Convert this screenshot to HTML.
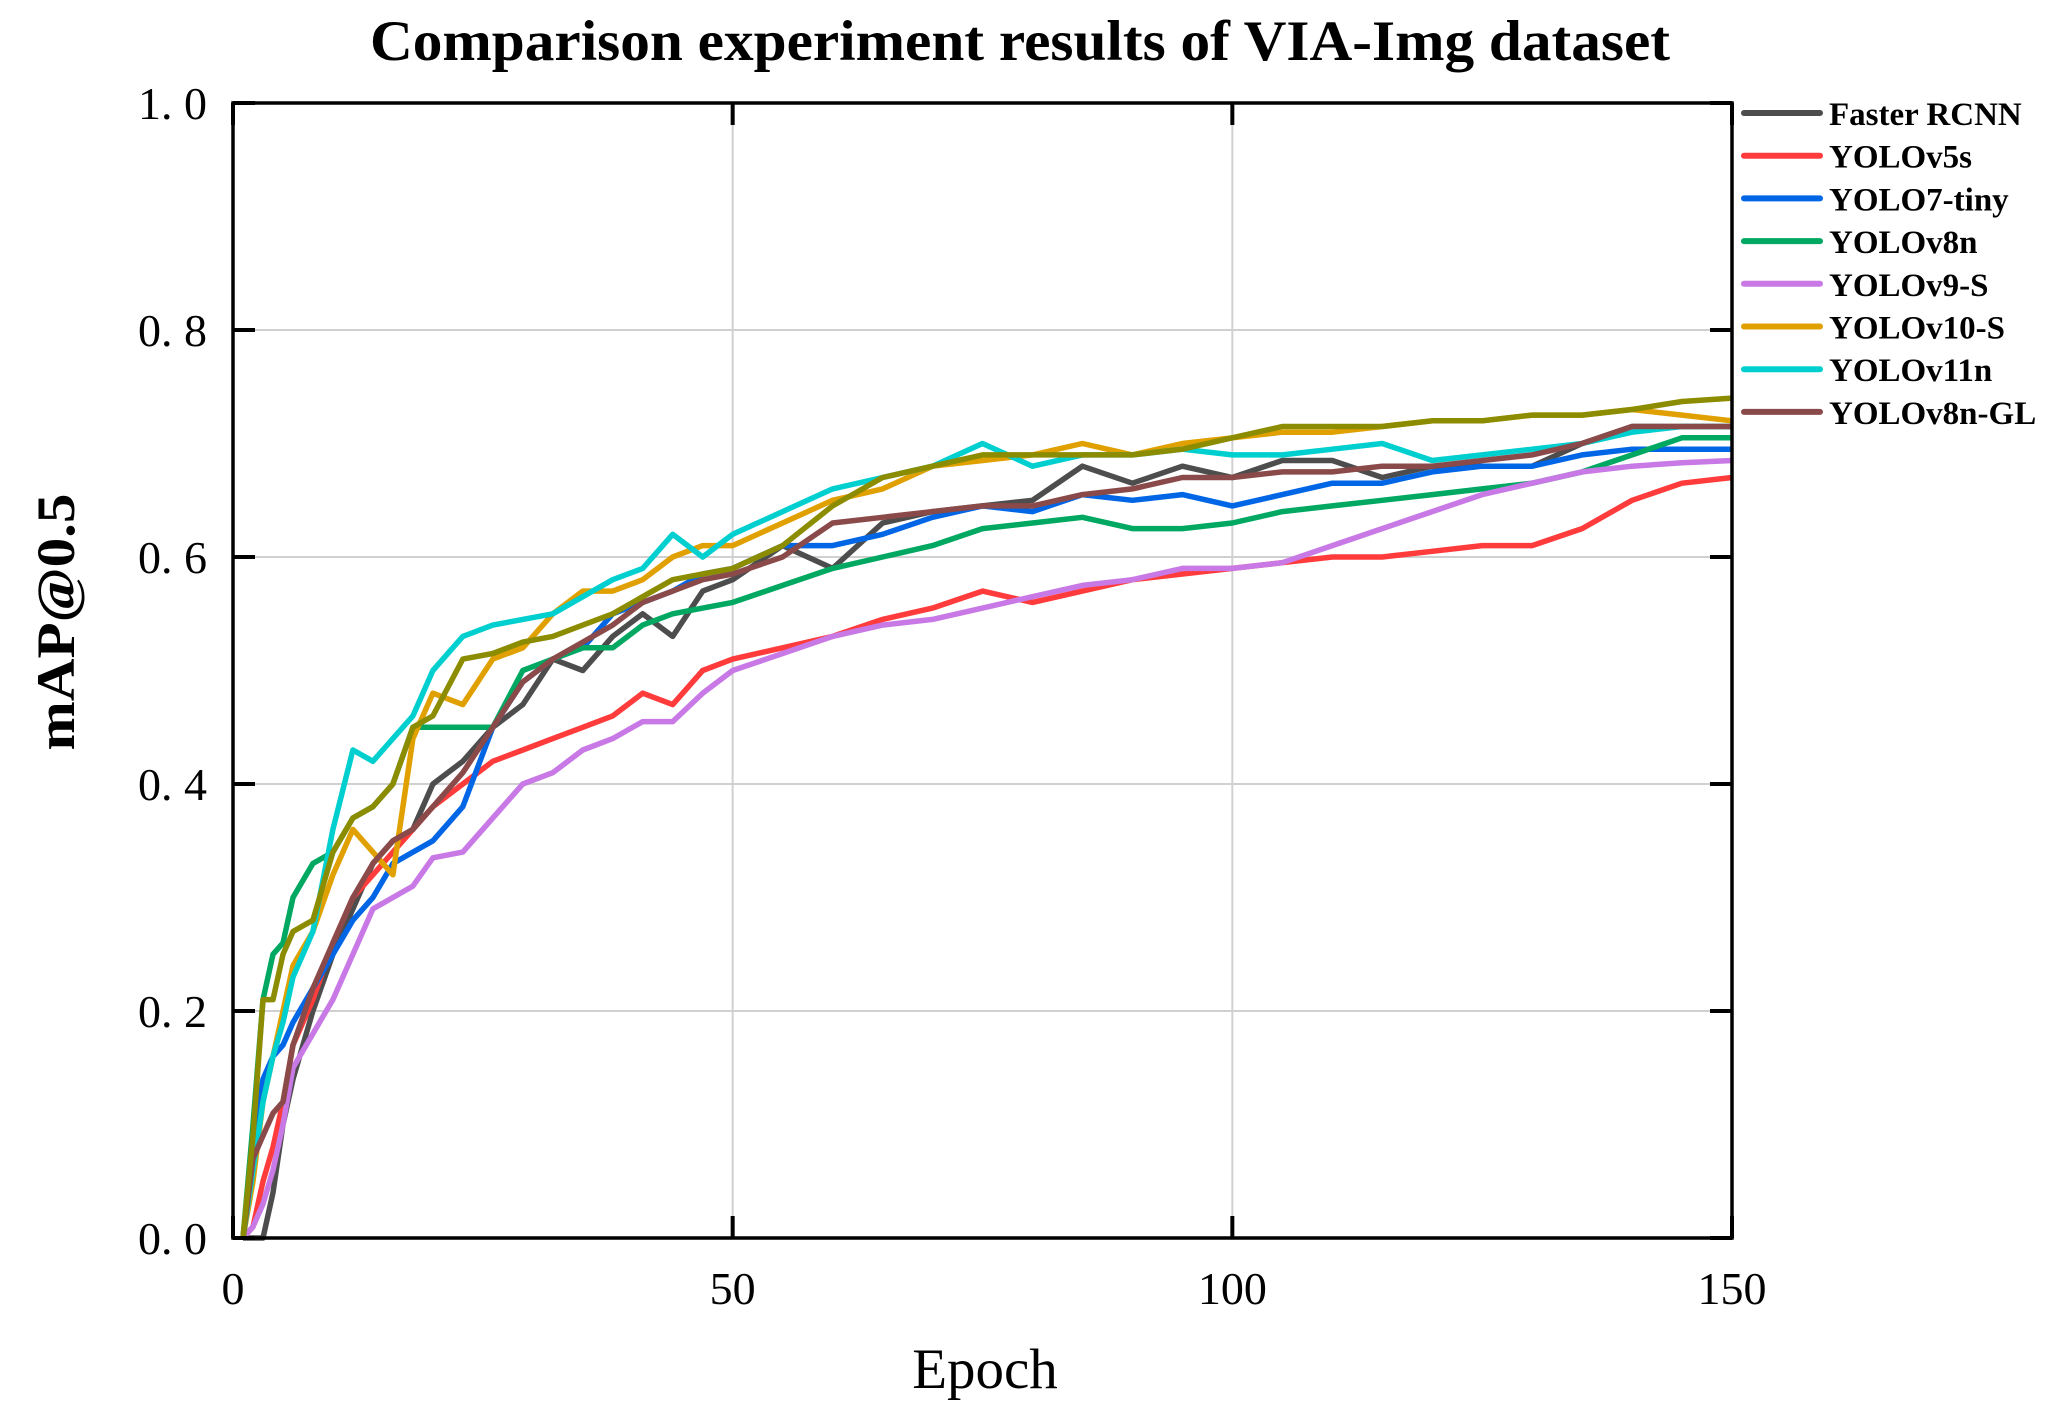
<!DOCTYPE html>
<html><head><meta charset="utf-8"><style>
html,body{margin:0;padding:0;background:#fff;}
svg{display:block;}
</style></head><body>
<svg id="chart" width="2055" height="1415" viewBox="0 0 2055 1415" xmlns="http://www.w3.org/2000/svg">
<rect x="0" y="0" width="2055" height="1415" fill="#fff"/>
<text x="1020" y="60" text-anchor="middle" font-family="Liberation Serif, serif" font-weight="bold" font-size="57" textLength="1300" lengthAdjust="spacingAndGlyphs">Comparison experiment results of VIA-Img dataset</text>
<g id="grid"></g>
<g id="series"></g>
<rect x="233" y="103" width="1499" height="1135" fill="none" stroke="#000" stroke-width="3.5"/>
<g id="ticks"></g>
<text x="985" y="1388" text-anchor="middle" font-family="Liberation Serif, serif" font-size="57">Epoch</text>
<text transform="translate(74,622) rotate(-90)" text-anchor="middle" font-family="Liberation Serif, serif" font-weight="bold" font-size="54" textLength="257" lengthAdjust="spacingAndGlyphs">mAP@0.5</text>
<g id="legend"></g>
</svg>
<script>
const epochs = [1,2,3,4,5,6,8,10,12,14,16,18,20,23,26,29,32,35,38,41,44,47,50,55,60,65,70,75,80,85,90,95,100,105,110,115,120,125,130,135,140,145,150];
const fasterRCNN = [0,0,0,0.04,0.1,0.14,0.2,0.25,0.29,0.33,0.35,0.36,0.40,0.42,0.45,0.47,0.51,0.50,0.53,0.55,0.53,0.57,0.58,0.61,0.59,0.63,0.64,0.645,0.65,0.68,0.665,0.68,0.67,0.685,0.685,0.67,0.68,0.68,0.68,0.70,0.715,0.715,0.715];
const yolov5s = [0,0.01,0.05,0.08,0.12,0.17,0.21,0.26,0.30,0.32,0.34,0.36,0.38,0.40,0.42,0.43,0.44,0.45,0.46,0.48,0.47,0.50,0.51,0.52,0.53,0.545,0.555,0.57,0.56,0.57,0.58,0.585,0.59,0.595,0.60,0.60,0.605,0.61,0.61,0.625,0.65,0.665,0.67];
const yolo7tiny = [0,0.08,0.14,0.16,0.17,0.19,0.22,0.25,0.28,0.30,0.33,0.34,0.35,0.38,0.45,0.49,0.51,0.52,0.55,0.56,0.57,0.585,0.59,0.61,0.61,0.62,0.635,0.645,0.64,0.655,0.65,0.655,0.645,0.655,0.665,0.665,0.675,0.68,0.68,0.69,0.695,0.695,0.695];
const yolov8n = [0,0.1,0.21,0.25,0.26,0.30,0.33,0.34,0.37,0.38,0.40,0.45,0.45,0.45,0.45,0.50,0.51,0.52,0.52,0.54,0.55,0.555,0.56,0.575,0.59,0.60,0.61,0.625,0.63,0.635,0.625,0.625,0.63,0.64,0.645,0.65,0.655,0.66,0.665,0.675,0.69,0.705,0.705];
const yolov9s = [0,0.01,0.03,0.06,0.1,0.15,0.18,0.21,0.25,0.29,0.30,0.31,0.335,0.34,0.37,0.40,0.41,0.43,0.44,0.455,0.455,0.48,0.50,0.515,0.53,0.54,0.545,0.555,0.565,0.575,0.58,0.59,0.59,0.595,0.61,0.625,0.64,0.655,0.665,0.675,0.68,0.683,0.685];
const yolov10s = [0,0.05,0.12,0.16,0.2,0.24,0.27,0.32,0.36,0.34,0.32,0.44,0.48,0.47,0.51,0.52,0.55,0.57,0.57,0.58,0.60,0.61,0.61,0.63,0.65,0.66,0.68,0.685,0.69,0.70,0.69,0.70,0.705,0.71,0.71,0.715,0.72,0.72,0.725,0.725,0.73,0.725,0.72];
const yolov11n = [0,0.06,0.12,0.16,0.19,0.23,0.27,0.36,0.43,0.42,0.44,0.46,0.50,0.53,0.54,0.545,0.55,0.565,0.58,0.59,0.62,0.60,0.62,0.64,0.66,0.67,0.68,0.70,0.68,0.69,0.69,0.695,0.69,0.69,0.695,0.70,0.685,0.69,0.695,0.70,0.71,0.715,0.715];
const yolov8nGL = [0,0.07,0.09,0.11,0.12,0.17,0.22,0.26,0.30,0.33,0.35,0.36,0.38,0.41,0.45,0.49,0.51,0.525,0.54,0.56,0.57,0.58,0.585,0.60,0.63,0.635,0.64,0.645,0.645,0.655,0.66,0.67,0.67,0.675,0.675,0.68,0.68,0.685,0.69,0.70,0.715,0.715,0.715];
const unlabeled = [0,0.09,0.21,0.21,0.25,0.27,0.28,0.34,0.37,0.38,0.40,0.45,0.46,0.51,0.515,0.525,0.53,0.54,0.55,0.565,0.58,0.585,0.59,0.61,0.645,0.67,0.68,0.69,0.69,0.69,0.69,0.695,0.705,0.715,0.715,0.715,0.72,0.72,0.725,0.725,0.73,0.737,0.74];
const seriesNames = ["Faster RCNN","YOLOv5s","YOLO7-tiny","YOLOv8n","YOLOv9-S","YOLOv10-S","YOLOv11n","YOLOv8n-GL"];
const yTicks = [0,0.2,0.4,0.6,0.8,1.0];
const yTickLabels = ["0. 0","0. 2","0. 4","0. 6","0. 8","1. 0"];
const xTicks = [0,50,100,150];
const xTickLabels = ["0","50","100","150"];

const NS="http://www.w3.org/2000/svg";
const L=233,R=1732,T=103,B=1238;
const xs=e=>L+(e/150)*(R-L);
const ys=v=>B-(v/1.0)*(B-T);
function mk(tag,attrs,parent){const el=document.createElementNS(NS,tag);for(const k in attrs)el.setAttribute(k,attrs[k]);parent.appendChild(el);return el;}
const grid=document.getElementById('grid'),ticks=document.getElementById('ticks'),sg=document.getElementById('series'),lg=document.getElementById('legend');
yTicks.forEach((v,i)=>{
  const y=ys(v);
  if(v>0&&v<1){const g=mk('line',{x1:L,x2:R,y1:y,y2:y,stroke:'#d0d0d0','stroke-width':2},grid);
  
  }
  const t1=mk('line',{x1:L,x2:L+22,y1:y,y2:y,stroke:'#000','stroke-width':4},ticks);
  
  
  const t2=mk('line',{x1:R-22,x2:R,y1:y,y2:y,stroke:'#000','stroke-width':4},ticks);
  
  
  const tx=mk('text',{x:207,y:y+16,'text-anchor':'end','font-family':'Liberation Serif, serif','font-size':46},ticks);
  tx.textContent=yTickLabels[i];
  
  
});
xTicks.forEach((e,i)=>{
  const x=xs(e);
  if(e>0&&e<150){const g=mk('line',{x1:x,x2:x,y1:T,y2:B,stroke:'#d0d0d0','stroke-width':2},grid);
  
  }
  const t1=mk('line',{x1:x,x2:x,y1:B,y2:B-22,stroke:'#000','stroke-width':4},ticks);
  
  
  const t2=mk('line',{x1:x,x2:x,y1:T,y2:T+22,stroke:'#000','stroke-width':4},ticks);
  
  
  const tx=mk('text',{x:x,y:1304,'text-anchor':'middle','font-family':'Liberation Serif, serif','font-size':46},ticks);
  tx.textContent=xTickLabels[i];
  
  
});
const all=[fasterRCNN,yolov5s,yolo7tiny,yolov8n,yolov9s,yolov10s,yolov11n,yolov8nGL,unlabeled];
const colors=['#4d4d4d','#ff3b3b','#0066e6','#00a862','#c879e6','#e0a000','#00cfcf','#8b4a4a','#8c8c00'];
const ids=['faster-rcnn','yolov5s','yolo7-tiny','yolov8n','yolov9-s','yolov10-s','yolov11n','yolov8n-gl','unlabeled-olive'];
all.forEach((vals,k)=>{
  const d=vals.map((v,i)=>(i?'L':'M')+xs(epochs[i]).toFixed(1)+' '+ys(v).toFixed(1)).join(' ');
  const p=mk('path',{d:d,fill:'none',stroke:colors[k],'stroke-width':5.5,'stroke-linejoin':'round'},sg);
  
  
});
seriesNames.forEach((n,i)=>{
  const y=113+i*42.7;
  const ln=mk('line',{x1:1744,x2:1820,y1:y,y2:y,stroke:colors[i],'stroke-width':6,'stroke-linecap':'round'},lg);
  
  
  const t=mk('text',{x:1829,y:y+12,'font-family':'Liberation Serif, serif','font-weight':'bold','font-size':33},lg);
  t.textContent=n;
  
  
});
</script>
</body></html>
